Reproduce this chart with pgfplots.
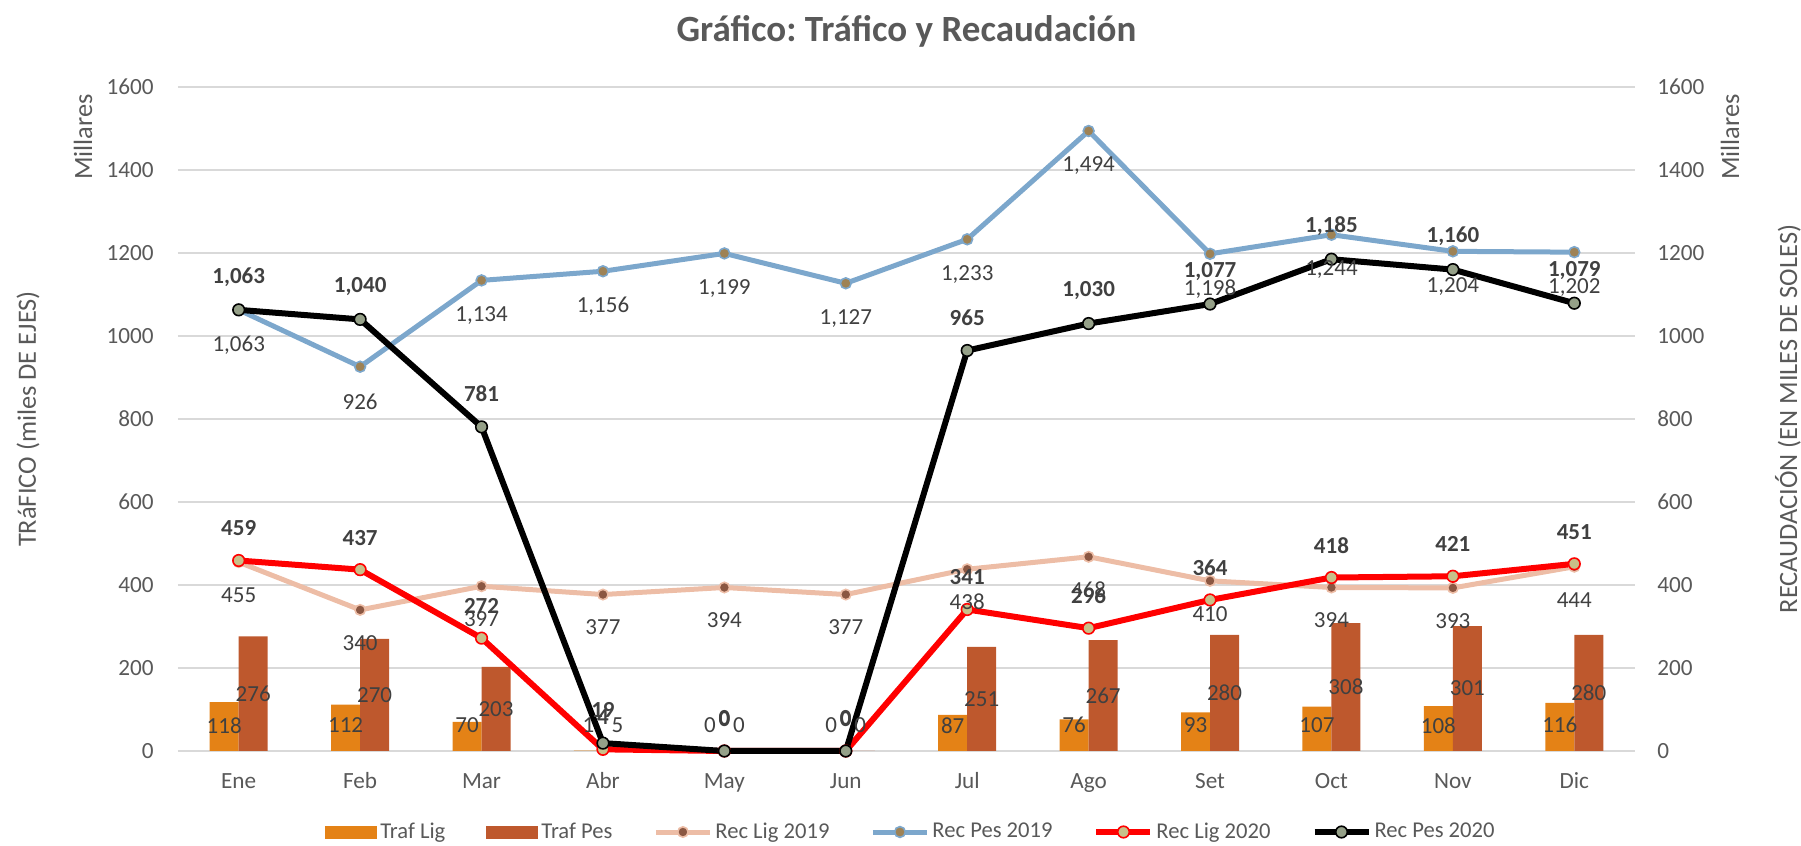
\documentclass[border=0pt]{standalone}
\usepackage{pgfplots}
\pgfplotsset{compat=1.18}
\usepackage{pgfplotstable}
\usetikzlibrary{calc}
\usepackage{fontspec}
\setmainfont{Carlito}
\frenchspacing
\definecolor{cTL}{HTML}{E48216}
\definecolor{cTP}{HTML}{BE582D}
\definecolor{cRL19}{HTML}{EDBDA6}
\definecolor{cRL19m}{HTML}{8B5742}
\definecolor{cRP19}{HTML}{7CA7CC}
\definecolor{cRP19m}{HTML}{9E8255}
\definecolor{cRL20m}{HTML}{C8C089}
\definecolor{cRP20m}{HTML}{95A088}
\definecolor{gridc}{HTML}{D9D9D9}
\definecolor{tickc}{HTML}{595959}
\definecolor{labc}{HTML}{404040}
\newcommand\tickfont{\fontsize{11.6pt}{13pt}\selectfont}
\newcommand\labfont{\fontsize{11.5pt}{13pt}\selectfont}
\newcommand\legfont{\fontsize{11.3pt}{13pt}\selectfont}
\newcommand\axtfont{\fontsize{13.2pt}{15pt}\selectfont}
\newcommand\titfont{\fontsize{18.5pt}{21pt}\selectfont\bfseries}

\pgfplotstableread{
x  tl  tp  rl19 rp19 rl20 rp20 tly tpy
0  118 276 455 1063 459 1063 62 138
1  112 270 340 926  437 1040 62 135
2  70  203 397 1134 272 781  62 101.5
3  1   5   377 1156 4   19   62 62
4  0   0   394 1199 0   0    62 62
5  0   0   377 1127 0   0    62 62
6  87  251 438 1233 341 965  62 125.5
7  76  267 468 1494 296 1030 62 133.5
8  93  280 410 1198 364 1077 62 140
9  107 308 394 1244 418 1185 62 154
10 108 301 393 1204 421 1160 62 150.5
11 116 280 444 1202 451 1079 62 140
}\data

\pgfplotsset{
  /pgf/number format/assume math mode=true,
  barleg/.style={legend image code/.code={\fill[##1] (0pt,-3.25pt) rectangle (26pt,3.25pt);}},
  lineleg/.style={legend image code/.code={\draw[mark repeat=2,mark phase=2,##1] plot coordinates {(0pt,0pt) (13.5pt,0pt) (27pt,0pt)};}},
  lab/.style={forget plot, draw=none, mark=none, nodes near coords, point meta=explicit,
    nodes near coords={\pgfmathprintnumber[fixed,precision=0,1000 sep={,}]{\pgfplotspointmeta}},
    every node near coord/.append style={anchor=center, inner sep=0pt, text=labc, font=\labfont, #1}},
}

\begin{document}
\begin{tikzpicture}
\begin{axis}[
  width=728.5pt, height=332pt, scale only axis,
  xmin=-0.5, xmax=11.5, ymin=0, ymax=1600,
  xtick={0,...,11},
  xticklabels={Ene,Feb,Mar,Abr,May,Jun,Jul,Ago,Set,Oct,Nov,Dic},
  ytick={0,200,...,1600},
  ymajorgrids, grid style={gridc, line width=0.75pt},
  axis line style={draw=none},
  major tick length=0pt, tick style={draw=none},
  scaled y ticks=false,
  yticklabel style={/pgf/number format/1000 sep={}, anchor=east, inner sep=0pt, xshift=-12pt, font=\tickfont, text=tickc},
  xticklabel style={anchor=base, inner sep=0pt, yshift=-19pt, font=\tickfont, text=tickc},
  clip=false,
  legend columns=6,
  legend style={at={(0.5034,-0.122)}, anchor=center, draw=none, fill=none, font=\legfont, text=tickc,
    nodes={inner xsep=1.5pt},
    /tikz/every even column/.append style={column sep=19pt}},
]
\addplot[ybar, bar width=14.5pt, bar shift=-7.25pt, fill=cTL, draw=none, barleg] table[x=x,y=tl]{\data};
\addlegendentry{Traf Lig}
\addplot[ybar, bar width=14.5pt, bar shift=7.25pt, fill=cTP, draw=none, barleg] table[x=x,y=tp]{\data};
\addlegendentry{Traf Pes}
\addplot[cRL19, line width=2.5pt, mark=*, mark size=2.6pt, mark options={fill=cRL19m, draw=cRL19, line width=0.8pt, solid}, lineleg] table[x=x,y=rl19]{\data};
\addlegendentry{Rec Lig 2019}
\addplot[cRP19, line width=2.5pt, mark=*, mark size=2.7pt, mark options={fill=cRP19m, draw=cRP19, line width=0.8pt, solid}, lineleg] table[x=x,y=rp19]{\data};
\addlegendentry{Rec Pes 2019}
\addplot[red, line width=3pt, mark=*, mark size=2.9pt, mark options={fill=cRL20m, draw=red, line width=0.8pt, solid}, lineleg] table[x=x,y=rl20]{\data};
\addlegendentry{Rec Lig 2020}
\addplot[black, line width=3pt, mark=*, mark size=2.9pt, mark options={fill=cRP20m, draw=black, line width=0.8pt, solid}, lineleg] table[x=x,y=rp20]{\data};
\addlegendentry{Rec Pes 2020}
% data labels
\addplot[lab={xshift=-7.25pt}] table[x=x,y=tly,meta=tl]{\data};
\addplot[lab={xshift=7.25pt}] table[x=x,y=tpy,meta=tp]{\data};
\addplot[lab={yshift=-16.5pt}] table[x=x,y=rl19,meta=rl19]{\data};
\addplot[lab={yshift=-17.5pt}] table[x=x,y=rp19,meta=rp19]{\data};
\addplot[lab={yshift=16pt, font=\labfont\bfseries}] table[x=x,y=rl20,meta=rl20]{\data};
\addplot[lab={yshift=16.5pt, font=\labfont\bfseries}] table[x=x,y=rp20,meta=rp20]{\data};
\coordinate (sw) at (rel axis cs:0,0);
\coordinate (se) at (rel axis cs:1,0);
\coordinate (nw) at (rel axis cs:0,1);
\coordinate (ne) at (rel axis cs:1,1);
\end{axis}
\begin{axis}[
  width=728.5pt, height=332pt, scale only axis,
  xmin=-0.5, xmax=11.5, ymin=0, ymax=1600,
  axis y line*=right, axis x line=none,
  ytick={0,200,...,1600},
  axis line style={draw=none},
  major tick length=0pt, tick style={draw=none},
  scaled y ticks=false,
  yticklabel style={/pgf/number format/1000 sep={}, anchor=west, inner sep=0pt, xshift=11pt, font=\tickfont, text=tickc},
]
\addplot[draw=none, forget plot] coordinates {(0,0)};
\end{axis}
\node[font=\titfont, text=tickc, anchor=base] at ($(nw)!0.5!(ne)+(0,22.75pt)$) {Gráfico: Tráfico y Recaudación};
\node[font=\axtfont, text=tickc, rotate=90, anchor=center] at ($(sw)!0.5!(nw)+(-75pt,0)$) {TRáFICO (miles DE EJES)};
\node[font=\axtfont, text=tickc, rotate=90, anchor=center] at ($(nw)+(-47.5pt,-25pt)$) {Millares};
\node[font=\axtfont, text=tickc, rotate=90, anchor=center] at ($(ne)+(47.5pt,-25pt)$) {Millares};
\node[font=\axtfont, text=tickc, rotate=90, anchor=center] at ($(se)!0.5!(ne)+(76.5pt,0)$) {RECAUDACIÓN (EN MILES DE SOLES)};
\pgfresetboundingbox
\path ($(sw)+(-89pt,-47.5pt)$) rectangle ($(ne)+(83pt,43.5pt)$);
\end{tikzpicture}
\end{document}
